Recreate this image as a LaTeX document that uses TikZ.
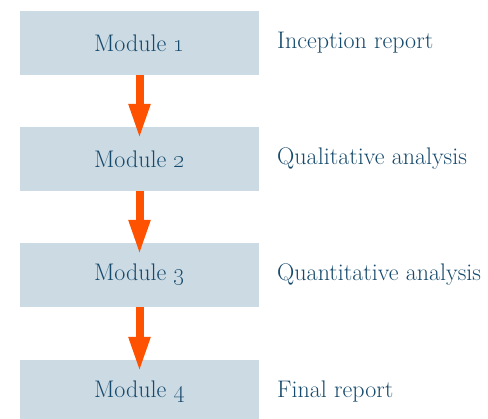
\documentclass[tikz,border=0pt]{standalone}
\usetikzlibrary{arrows.meta}
\definecolor{boxfill}{HTML}{CCDAE3}
\definecolor{txt}{HTML}{164A6C}
\definecolor{arr}{HTML}{FF5200}
\begin{document}
\begin{tikzpicture}[x=1pt,y=-1pt,
  modbox/.style={fill=boxfill,minimum width=239pt,minimum height=64pt,inner sep=0pt,text=txt,font=\fontsize{24}{28}\selectfont},
  lab/.style={anchor=west,inner sep=0pt,text=txt,font=\fontsize{24}{28}\selectfont},
  flow/.style={draw=arr,line width=8pt,-{Triangle[width=20pt,length=35pt]}}]
\useasboundingbox (0,0) rectangle (488,419);
\node[modbox] (m1) at (139.5,43) {Module \oldstylenums{1}};
\node[modbox] (m2) at (139.5,159) {Module \oldstylenums{2}};
\node[modbox] (m3) at (139.5,275) {Module \oldstylenums{3}};
\node[modbox] (m4) at (139.5,392) {Module \oldstylenums{4}};
\node[lab] (l1) at (277,43) {Inception report};
\node[lab] (l2) at (277,159) {Qualitative analysis};
\node[lab] (l3) at (277,275) {Quantitative analysis};
\node[lab] (l4) at (277,392) {Final report};
\draw[flow] (m1.south) -- ([yshift=-12pt]m2.north);
\draw[flow] (m2.south) -- ([yshift=-12pt]m3.north);
\draw[flow] (m3.south) -- ([yshift=-12pt]m4.north);
\end{tikzpicture}
\end{document}
